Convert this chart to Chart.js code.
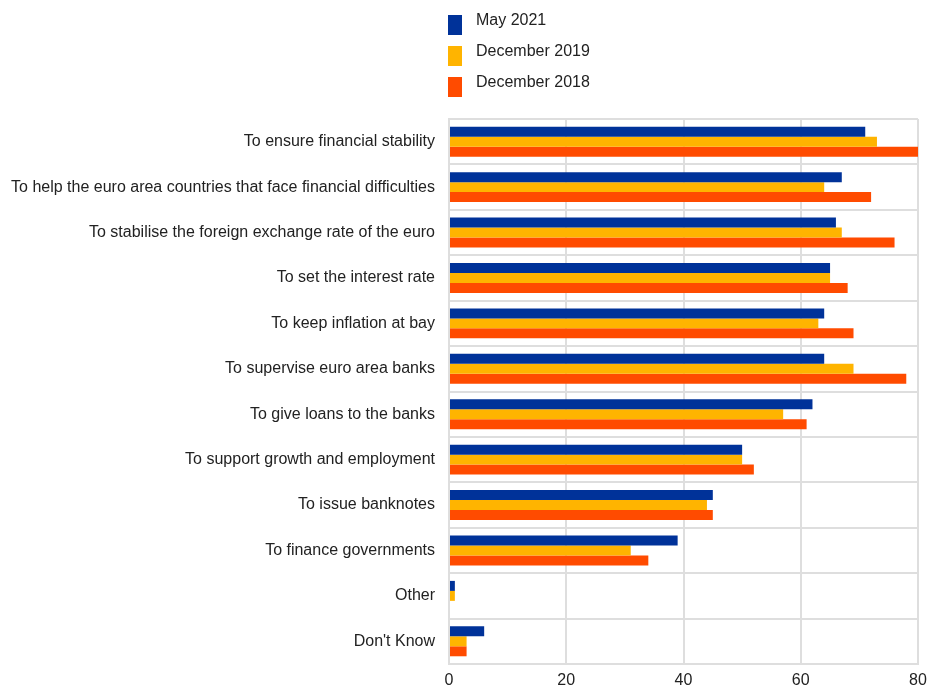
<!DOCTYPE html>
<html lang="en">
<head>
<meta charset="UTF-8">
<title>ECB tasks</title>
<script src="https://cdn.jsdelivr.net/npm/chart.js"></script>
<style>
  body { margin: 0; background: #fff; font-family: "Liberation Sans", Arial, sans-serif; }
  #wrap { position: relative; width: 929px; height: 690px; }
  #legend { position: absolute; left: 448px; top: 0; }
  .item { position: absolute; left: 0; width: 200px; height: 20px; }
  .box { position: absolute; left: 0; top: 0; width: 14px; height: 20px; }
  .lbl { position: absolute; left: 28px; top: -4px; font-size: 16px; color: #222; white-space: nowrap; }
</style>
</head>
<body>
<div id="wrap">
  <canvas id="chart" width="929" height="690"></canvas>
  <div id="legend"></div>
</div>
<script>
const categories = [
  'To ensure financial stability',
  'To help the euro area countries that face financial difficulties',
  'To stabilise the foreign exchange rate of the euro',
  'To set the interest rate',
  'To keep inflation at bay',
  'To supervise euro area banks',
  'To give loans to the banks',
  'To support growth and employment',
  'To issue banknotes',
  'To finance governments',
  'Other',
  "Don't Know"
];
const seriesNames = ['May 2021', 'December 2019', 'December 2018'];
const seriesColors = ['#003299', '#FFB400', '#FF4B00'];
const may2021 = [71, 67, 66, 65, 64, 64, 62, 50, 45, 39, 1, 6];
const dec2019 = [73, 64, 67, 65, 63, 69, 57, 50, 44, 31, 1, 3];
const dec2018 = [80, 72, 76, 68, 69, 78, 61, 52, 45, 34, 0, 3];
const xTicks = [0, 20, 40, 60, 80];

const values = [may2021, dec2019, dec2018];
const gridColor = '#dedede';
const textColor = '#222';

// legend drawn as html, one square + label per series
const legend = document.getElementById('legend');
seriesNames.forEach(function (name, i) {
  const it = document.createElement('div');
  it.className = 'item';
  it.style.top = (15 + i * 31) + 'px';
  it.innerHTML = '<div class="box" style="background:' + seriesColors[i] + '"></div><div class="lbl">' + name + '</div>';
  legend.appendChild(it);
});

new Chart(document.getElementById('chart'), {
  type: 'bar',
  data: {
    labels: categories,
    datasets: values.map(function (v, i) {
      return {
        label: seriesNames[i],
        data: v,
        backgroundColor: seriesColors[i],
        borderWidth: 0,
        categoryPercentage: 0.66,
        barPercentage: 1.0
      };
    })
  },
  options: {
    indexAxis: 'y',
    responsive: false,
    animation: false,
    layout: { padding: { top: 119, right: 0, bottom: 0, left: 0 } },
    plugins: { legend: { display: false }, tooltip: { enabled: false } },
    scales: {
      x: {
        min: 0,
        max: 80,
        afterBuildTicks: function (s) { s.ticks = xTicks.map(function (v) { return { value: v }; }); },
        afterFit: function (s) { s.height = 26; s.paddingRight = 11; },
        grid: { color: gridColor, lineWidth: 2, drawTicks: false },
        border: { color: gridColor, width: 2 },
        ticks: { color: textColor, font: { family: 'Liberation Sans', size: 16 }, padding: 7, maxRotation: 0 }
      },
      y: {
        afterFit: function (s) { s.width = 449; },
        grid: { color: gridColor, lineWidth: 2, drawTicks: false },
        border: { color: gridColor, width: 2 },
        ticks: { color: textColor, font: { family: 'Liberation Sans', size: 16 }, padding: 14 }
      }
    }
  }
});
</script>
</body>
</html>
